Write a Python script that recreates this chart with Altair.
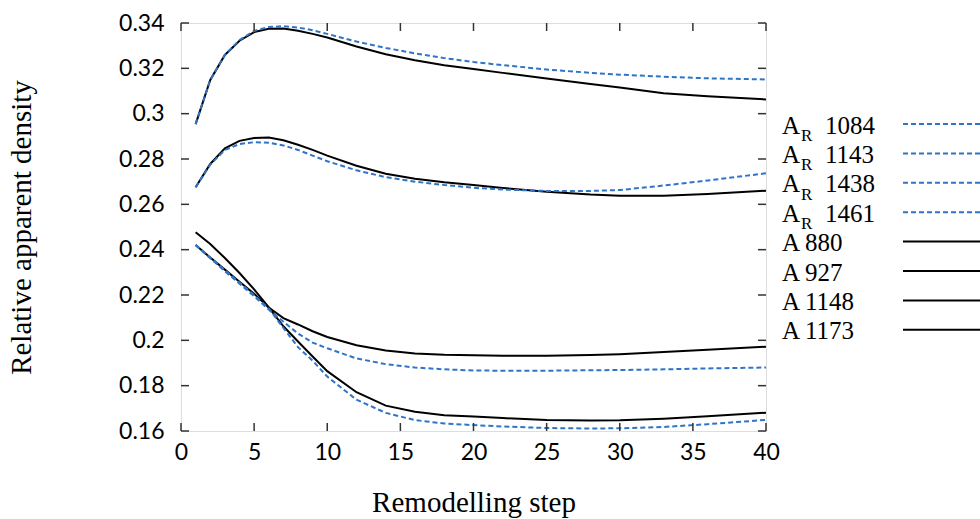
import altair as alt
import pandas as pd

steps = [1, 2, 3, 4, 5, 6, 7, 8, 9, 10, 12, 14, 16, 18, 20, 22, 25, 28, 30, 33, 36, 40]

a_880 = [0.2954, 0.3149, 0.3259, 0.3322, 0.3360, 0.3375, 0.3376, 0.3366, 0.3352, 0.3336, 0.3296,
         0.3262, 0.3236, 0.3214, 0.3197, 0.3180, 0.3155, 0.3131, 0.3115, 0.3090, 0.3077, 0.3063]
ar_1084 = [0.2954, 0.3149, 0.3259, 0.3325, 0.3365, 0.3382, 0.3386, 0.3380, 0.3368, 0.3352, 0.3318,
           0.3290, 0.3266, 0.3245, 0.3228, 0.3214, 0.3195, 0.3180, 0.3172, 0.3163, 0.3156, 0.3151]
a_927 = [0.2675, 0.2778, 0.2847, 0.2880, 0.2893, 0.2895, 0.2883, 0.2863, 0.2840, 0.2815, 0.2770,
         0.2735, 0.2713, 0.2697, 0.2685, 0.2672, 0.2656, 0.2643, 0.2638, 0.2638, 0.2646, 0.2660]
ar_1143 = [0.2675, 0.2775, 0.2840, 0.2866, 0.2874, 0.2872, 0.2860, 0.2840, 0.2815, 0.2790, 0.2750,
           0.2720, 0.2700, 0.2685, 0.2673, 0.2665, 0.2659, 0.2659, 0.2663, 0.2683, 0.2705, 0.2737]
a_1148 = [0.2421, 0.2365, 0.2312, 0.2258, 0.2205, 0.2145, 0.2098, 0.2070, 0.2040, 0.2015, 0.1978,
          0.1955, 0.1942, 0.1936, 0.1934, 0.1932, 0.1932, 0.1935, 0.1939, 0.1948, 0.1958, 0.1972]
ar_1438 = [0.2421, 0.2362, 0.2305, 0.2250, 0.2195, 0.2136, 0.2082, 0.2030, 0.1990, 0.1965, 0.1920,
           0.1895, 0.1880, 0.1872, 0.1867, 0.1866, 0.1866, 0.1868, 0.1869, 0.1872, 0.1876, 0.1880]
a_1173 = [0.2477, 0.2425, 0.2363, 0.2297, 0.2225, 0.2145, 0.2062, 0.1995, 0.1929, 0.1864, 0.1771,
          0.1712, 0.1685, 0.1670, 0.1664, 0.1657, 0.1649, 0.1646, 0.1647, 0.1654, 0.1665, 0.1681]
ar_1461 = [0.2421, 0.2365, 0.2310, 0.2255, 0.2200, 0.2140, 0.2055, 0.1970, 0.1910, 0.1840, 0.1738,
           0.1680, 0.1648, 0.1633, 0.1626, 0.1620, 0.1613, 0.1611, 0.1612, 0.1618, 0.1630, 0.1649]

solid_series = {"A 880": a_880, "A 927": a_927, "A 1148": a_1148, "A 1173": a_1173}
dashed_series = {"AR 1084": ar_1084, "AR 1143": ar_1143, "AR 1438": ar_1438, "AR 1461": ar_1461}

legend_main = ["A", "A", "A", "A", "A 880", "A 927", "A 1148", "A 1173"]
legend_sub = ["R", "R", "R", "R", "", "", "", ""]
legend_num = ["1084", "1143", "1438", "1461", "", "", "", ""]
legend_dashed = [True, True, True, True, False, False, False, False]

x_ticks = [0, 5, 10, 15, 20, 25, 30, 35, 40]
y_ticks = [0.16, 0.18, 0.20, 0.22, 0.24, 0.26, 0.28, 0.30, 0.32, 0.34]

W, H = 585, 408
BLUE = "#2f74c8"
SERIF = "Liberation Serif"
TICKFONT = "Lato"


def long(d):
    rows = []
    for name, vals in d.items():
        for s, v in zip(steps, vals):
            rows.append({"series": name, "step": s, "value": v})
    return pd.DataFrame(rows)


solid_df = long(solid_series)
dashed_df = long(dashed_series)

xs = alt.Scale(domain=[0, 40], nice=False, zero=False)
ys = alt.Scale(domain=[0.16, 0.34], nice=False, zero=False)

x_axis = alt.Axis(values=x_ticks, tickSize=0, domain=False, grid=False, labelFont=TICKFONT,
                  labelFontSize=23, labelColor="black", labelPadding=10, title="Remodelling step",
                  titleFont=SERIF, titleFontSize=29, titleFontWeight="normal", titleColor="black",
                  titlePadding=24, labelFlush=False)
y_axis = alt.Axis(values=y_ticks, tickSize=0, domain=False, grid=False, labelFont=TICKFONT,
                  labelFontSize=23, labelColor="black", labelPadding=17, title="Relative apparent density",
                  titleFont=SERIF, titleFontSize=29, titleFontWeight="normal", titleColor="black",
                  titlePadding=82, labelFlush=False,
                  labelExpr="replace(format(datum.value, '.2f'), /0$/, '')")

solid = alt.Chart(solid_df).mark_line(color="black", strokeWidth=2).encode(
    x=alt.X("step:Q", scale=xs, axis=x_axis),
    y=alt.Y("value:Q", scale=ys, axis=y_axis),
    detail="series:N",
)
dashed = alt.Chart(dashed_df).mark_line(color=BLUE, strokeWidth=2, strokeDash=[5, 3]).encode(
    x=alt.X("step:Q", scale=xs),
    y=alt.Y("value:Q", scale=ys),
    detail="series:N",
)

xt = pd.DataFrame({"t": x_ticks})
yt = pd.DataFrame({"t": y_ticks})
TL = 8
tick_color = "#333333"
xt_bot = alt.Chart(xt).mark_rule(color=tick_color, strokeWidth=1.5).encode(
    x=alt.X("t:Q", scale=xs), y=alt.value(H), y2=alt.value(H - TL))
xt_top = alt.Chart(xt).mark_rule(color=tick_color, strokeWidth=1.5).encode(
    x=alt.X("t:Q", scale=xs), y=alt.value(0), y2=alt.value(TL))
yt_left = alt.Chart(yt).mark_rule(color=tick_color, strokeWidth=1.5).encode(
    y=alt.Y("t:Q", scale=ys), x=alt.value(0), x2=alt.value(TL))
yt_right = alt.Chart(yt).mark_rule(color=tick_color, strokeWidth=1.5).encode(
    y=alt.Y("t:Q", scale=ys), x=alt.value(W - TL), x2=alt.value(W))

leg = pd.DataFrame({
    "row": list(range(8)),
    "main": legend_main,
    "sub": legend_sub,
    "num": legend_num,
    "dashed": legend_dashed,
})
ROW = 29.4
base = alt.Chart(leg).transform_calculate(
    ty=f"110.5 + datum.row * {ROW}",
    sy=f"118 + datum.row * {ROW}",
    ly=f"101 + datum.row * {ROW}",
)
leg_main = base.mark_text(font=SERIF, fontSize=25, align="left", baseline="alphabetic", color="black").encode(
    x=alt.value(601), y=alt.Y("ty:Q", scale=None), text="main:N")
leg_sub = base.mark_text(font=SERIF, fontSize=17, align="left", baseline="alphabetic", color="black").encode(
    x=alt.value(620), y=alt.Y("sy:Q", scale=None), text="sub:N")
leg_num = base.mark_text(font=SERIF, fontSize=25, align="left", baseline="alphabetic", color="black").encode(
    x=alt.value(644), y=alt.Y("ty:Q", scale=None), text="num:N")
leg_dash = base.transform_filter("datum.dashed").mark_rule(color=BLUE, strokeWidth=2, strokeDash=[5, 3]).encode(
    x=alt.value(722), x2=alt.value(800), y=alt.Y("ly:Q", scale=None))
leg_solid = base.transform_filter("!datum.dashed").mark_rule(color="black", strokeWidth=2).encode(
    x=alt.value(722), x2=alt.value(800), y=alt.Y("ly:Q", scale=None))

chart = alt.layer(
    solid, dashed, xt_bot, xt_top, yt_left, yt_right,
    leg_main, leg_sub, leg_num, leg_dash, leg_solid,
).properties(
    width=W, height=H,
    autosize=alt.AutoSizeParams(type="none"),
    padding={"left": 181, "top": 23, "right": 214, "bottom": 88},
).configure_view(
    stroke="black", strokeWidth=1.5, clip=False
).configure(background="white")

chart.save("out.html", embed_options={"renderer": "svg", "actions": False})
